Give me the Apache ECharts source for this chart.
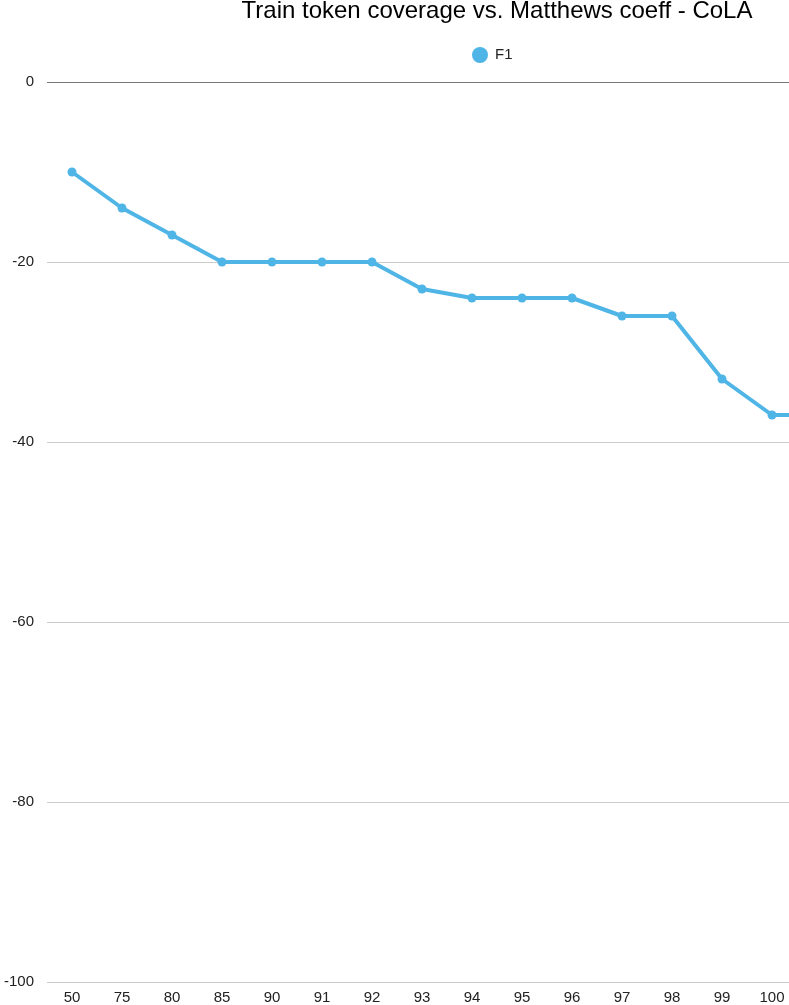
<!DOCTYPE html>
<html>
<head>
<meta charset="utf-8">
<script src="https://cdn.jsdelivr.net/npm/echarts@6/dist/echarts.min.js"></script>
<style>
html,body{margin:0;padding:0;background:#fff;overflow:hidden;}
#chart{width:994px;height:1005px;}
</style>
</head>
<body>
<div id="chart"></div>
<script>
var categories = ['50','75','80','85','90','91','92','93','94','95','96','97','98','99','100',''];
var f1Values = [-10,-14,-17,-20,-20,-20,-20,-23,-24,-24,-24,-26,-26,-33,-37,-37];
var yTicks = {min:-100, max:0, interval:20};

var chart = echarts.init(document.getElementById('chart'));
chart.setOption({
  animation:false,
  backgroundColor:'#fff',
  title:{
    text:'Train token coverage vs. Matthews coeff - CoLA',
    left:'center', top:-6,
    textStyle:{fontFamily:'Liberation Sans', fontSize:24, fontWeight:'normal', color:'#000'}
  },
  legend:{
    top:42, left:467,
    icon:'circle', itemWidth:16, itemHeight:16, itemGap:8,
    textStyle:{fontFamily:'Liberation Sans', fontSize:15, color:'#222', padding:[0,0,0,2]},
    data:['F1']
  },
  grid:{left:47, right:147, top:82, bottom:23, containLabel:false},
  xAxis:{
    type:'category', data:categories, boundaryGap:true,
    axisLine:{show:false, onZero:false}, axisTick:{show:false},
    axisLabel:{fontFamily:'Liberation Sans', fontSize:15, color:'#222', margin:8}
  },
  yAxis:{
    type:'value', min:yTicks.min, max:yTicks.max, interval:yTicks.interval,
    axisLine:{show:false}, axisTick:{show:false},
    axisLabel:{fontFamily:'Liberation Sans', fontSize:15, color:'#222', margin:13, padding:[2,0,0,0]},
    splitLine:{lineStyle:{color:['#cccccc','#cccccc','#cccccc','#cccccc','#cccccc','#777777'], width:1}}
  },
  series:[{
    name:'F1', type:'line', data:f1Values,
    symbol:'circle', symbolSize:9, showAllSymbol:true,
    lineStyle:{width:4, color:'#4fb5e6'},
    itemStyle:{color:'#4fb5e6'}
  }]
});
</script>
</body>
</html>
